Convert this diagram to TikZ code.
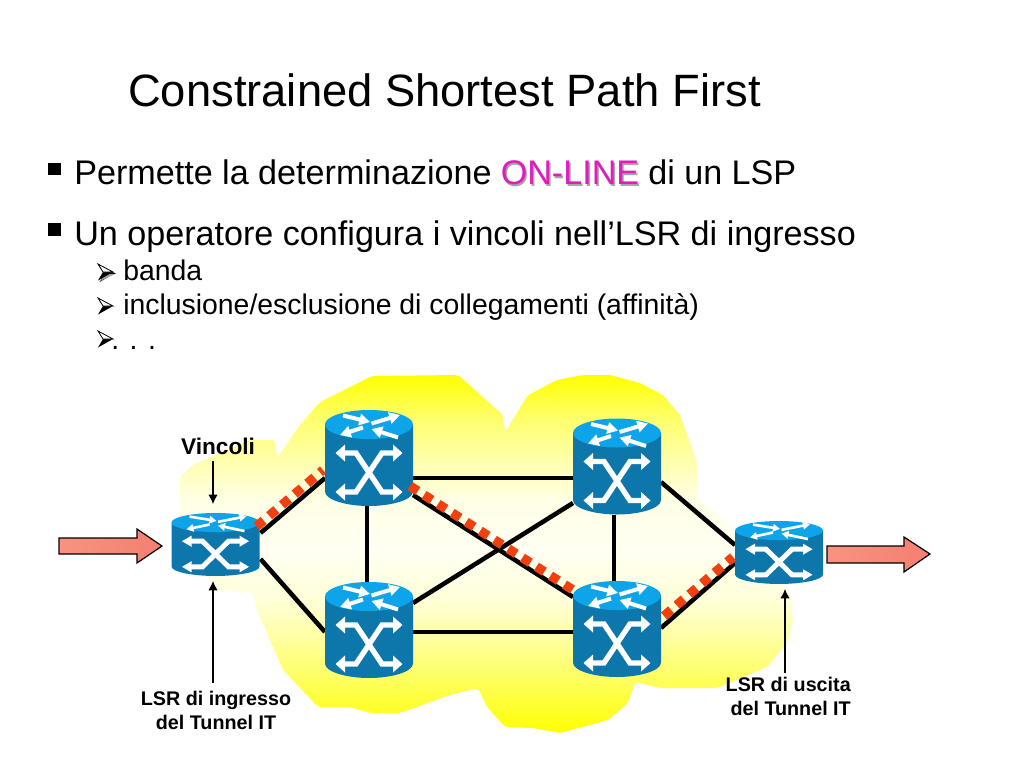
\documentclass[tikz,border=0pt]{standalone}
\usepackage{fontspec}
\setmainfont{Liberation Sans}
\usetikzlibrary{calc,arrows.meta}
\definecolor{rbody}{HTML}{0D77AC}
\definecolor{rtop}{HTML}{0EA4E9}
\definecolor{pathred}{HTML}{F0400F}
\definecolor{onl}{HTML}{E01CC0}
\definecolor{pinkL}{HTML}{F8937F}
\definecolor{pinkR}{HTML}{F47F70}
\pgfdeclareverticalshading{cloudshade}{100bp}{
 rgb(0bp)=(1,1,0);
 rgb(25bp)=(1,1,0);
 rgb(31bp)=(1,1,0.30);
 rgb(38bp)=(1,1,0.62);
 rgb(43.6bp)=(1,1,0.85);
 rgb(50.5bp)=(1,1,0.95);
 rgb(57.5bp)=(1,1,0.90);
 rgb(63bp)=(1,1,0.68);
 rgb(69bp)=(1,1,0.42);
 rgb(75bp)=(1,1,0);
 rgb(100bp)=(1,1,0)}
\tikzset{
 rnode/.style={minimum width=66pt,inner sep=0pt,outer sep=0pt},
 link/.style={line width=3.4pt,black},
 redlink/.style={line width=7pt,pathred,dash pattern=on 7pt off 5.5pt},
 title/.style={anchor=base west,inner sep=0pt,font=\fontsize{34}{38}\selectfont},
 bul/.style={anchor=base west,inner sep=0pt,font=\fontsize{25.6}{30}\selectfont},
 sub/.style={anchor=base west,inner sep=0pt,font=\fontsize{21.3}{26}\selectfont},
 lab/.style={inner sep=0pt,font=\bfseries\fontsize{14.8}{18}\selectfont},
 vlab/.style={inner sep=0pt,font=\bfseries\fontsize{17}{20}\selectfont},
 thin arrow/.style={line width=0.8pt,black,-{Latex[length=7pt,width=7pt]}},
 pinkarrow/.style={draw=black,line width=0.9pt,left color=pinkL,right color=pinkR,line join=miter},
 bsq/.style={fill=black},
}
% sub-bullet arrowhead: #1 x, #2 centre y
\newcommand{\subbullet}[2]{%
 \begin{scope}[shift={(#1,#2)}]
  \fill[black] (0,8.5) -- (15,0) -- (5,0) -- cycle;
  \draw[black,line width=0.6pt,fill=white,line join=miter] (0,-8) -- (15,0) -- (5,0) -- cycle;
 \end{scope}}
% #1 cx, #2 top y, #3 scale factor
\newcommand{\routerart}[3]{%
 \begin{scope}[shift={(#1,#2)},yscale=#3]
  \fill[rbody] (-44,14.5) -- (-44,81.5) .. controls (-44,90) and (-22,96) .. (0,96) .. controls (22,96) and (44,90) .. (44,81.5) -- (44,14.5) -- cycle;
  \fill[rtop] (0,14.5) ellipse [x radius=44,y radius=14.5];
  % top arrows
  \begin{scope}[white,line width=3pt*#3,-{Triangle[length=8pt*#3,width=8.5pt*#3]}]
   \draw (-26,5.5) -- (1,12);
   \draw (2.5,13.5) -- (31,5);
   \draw (-6,17.5) -- (-29,25);
   \draw (29,27.5) -- (2.5,19);
  \end{scope}
  % X arrows
  \begin{scope}[shift={(0,62.5)}]
   \foreach \sx in {-1,1} {
    \begin{scope}[xscale=\sx]
     \draw[white,line width=3.4pt+0.6pt*#3,line join=miter] (-25,-19.5) -- (-13,-19.5) -- (13,19.5) -- (25,19.5);
     \fill[white] (33.5,19.5) -- (24,11) -- (24,28) -- cycle;
     \fill[white] (-33.5,-19.5) -- (-24,-11) -- (-24,-28) -- cycle;
    \end{scope}}
  \end{scope}
 \end{scope}}
\begin{document}
\begin{tikzpicture}[x=0.75pt,y=-0.75pt]
\useasboundingbox (0,0) rectangle (1024,768);
\fill[white] (0,0) rectangle (1024,768);
% cloud
\shade[shading=cloudshade,rounded corners=2.5pt]
 (372,376) -- (320,402) -- (300,425) -- (277,458) -- (275,440) -- (250,440) -- (193,465) -- (180,477) -- (180,530) -- (215,590) -- (253,593) -- (257,610) -- (283,670) -- (318,707) -- (350,707) -- (370,713) -- (400,713) -- (450,695) -- (478,688) -- (487,707) -- (505,727) -- (533,728) -- (560,733) -- (608,720) -- (628,703) -- (635,682) -- (660,688) -- (717,688) -- (767,667) -- (787,643) -- (793,620) -- (790,595) -- (735,530) -- (697,498) -- (697,462) -- (680,415) -- (663,395) -- (640,383) -- (610,375) -- (583,375) -- (557,380) -- (528,395) -- (505,432) -- (503,415) -- (458,375) -- cycle;
% title and text
\node[title] (ttl) at (128,106) {Constrained Shortest Path First};
\fill[bsq] (48,163) rectangle (61,175);
\fill[bsq] (48,223) rectangle (61,236);
\node[bul] (b1) at (74,184) {Permette la determinazione};
\node[bul] (b1o) at (500.5,184) {\rlap{\kern1.1pt\raisebox{-1.5pt}{\textcolor{black!35}{ON-LINE}}}\textcolor{onl}{ON-LINE}};
\node[bul] (b1e) at (648,184) {di un LSP};
\node[bul] (b2) at (74,245) {Un operatore configura i vincoli nell’LSR di ingresso};
\subbullet{99.5}{273.5}
\fill[black!35] (100,281) -- (115,274) -- (106,274) -- cycle;
\subbullet{98}{272}
\node[sub] (s1) at (123,280) {banda};
\subbullet{98}{306}
\node[sub] (s2) at (123,314) {inclusione/esclusione di collegamenti (affinità)};
\subbullet{98}{339}
\node[sub] (s3) at (111,349) {. . .};
% router anchors
\node[rnode,minimum height=47pt] (r0) at (215.5,544.5) {};
\node[rnode,minimum height=72pt] (r1) at (369,458) {};
\node[rnode,minimum height=72pt] (r2) at (369,630) {};
\node[rnode,minimum height=72pt] (r3) at (617,466.5) {};
\node[rnode,minimum height=72pt] (r4) at (617,629) {};
\node[rnode,minimum height=47pt] (r5) at (779,552.5) {};
% black links
\draw[link] ($(r0.east)+(1,-11.5)$) -- ($(r1.west)+(0,20)$);
\draw[link] ($(r0.east)+(1,14.5)$) -- ($(r2.west)+(0,2)$);
\draw[link] ($(r1.south)+(-2,0)$) -- ($(r2.north)+(-2,0)$);
\draw[link] ($(r1.east)+(0,20)$) -- ($(r3.west)+(0,11.5)$);
\draw[link] ($(r1.east)+(0,37)$) -- ($(r4.west)+(0,-32)$);
\draw[link] ($(r2.east)+(0,-27)$) -- ($(r3.west)+(0,36.5)$);
\draw[link] ($(r2.east)+(0,2)$) -- ($(r4.west)+(0,3)$);
\draw[link] ($(r3.south)+(-3,0)$) -- ($(r4.north)+(-3,0)$);
\draw[link] ($(r3.east)+(0,15.5)$) -- ($(r5.west)+(0,-7.5)$);
\draw[link] ($(r4.east)+(0,-1)$) -- ($(r5.west)+(0,10.5)$);
% routers
\routerart{215.5}{513}{0.656}
\routerart{369}{410}{1}
\routerart{369}{582}{1}
\routerart{617}{418.5}{1}
\routerart{617}{581}{1}
\routerart{779}{521}{0.656}
% constrained path
\draw[redlink] ($(r0.east)+(-3,-18)$) -- ($(r1.west)+(-2,12)$);
\draw[redlink] ($(r1.east)+(-3,28)$) -- ($(r4.west)+(0,-39)$);
\draw[redlink] ($(r4.east)+(3,-13)$) -- ($(r5.west)+(-2,4.5)$);
% pink arrows
\draw[pinkarrow] (59,538) -- (137,538) -- (137,529) -- (162,546) -- (137,563) -- (137,554) -- (59,554) -- cycle;
\draw[pinkarrow] (827,546) -- (904,546) -- (904,537) -- (930,554) -- (904,572) -- (904,563) -- (827,563) -- cycle;
% labels
\node[vlab] (vin) at (218,446) {Vincoli};
\node[lab,align=center] (lin) at (216,710) {LSR di ingresso\\del Tunnel IT};
\node[lab,align=right,anchor=east] (lout) at (851,696) {LSR di uscita\\del Tunnel IT};
\coordinate (vt) at (213,461);
\coordinate (vh) at (213,504);
\coordinate (it) at (213,683);
\coordinate (ih) at (213,581);
\coordinate (ot) at (785,673);
\coordinate (oh) at (785,589);
\draw[thin arrow] (vt) -- (vh);
\draw[thin arrow] (it) -- (ih);
\draw[thin arrow] (ot) -- (oh);
\end{tikzpicture}
\end{document}
